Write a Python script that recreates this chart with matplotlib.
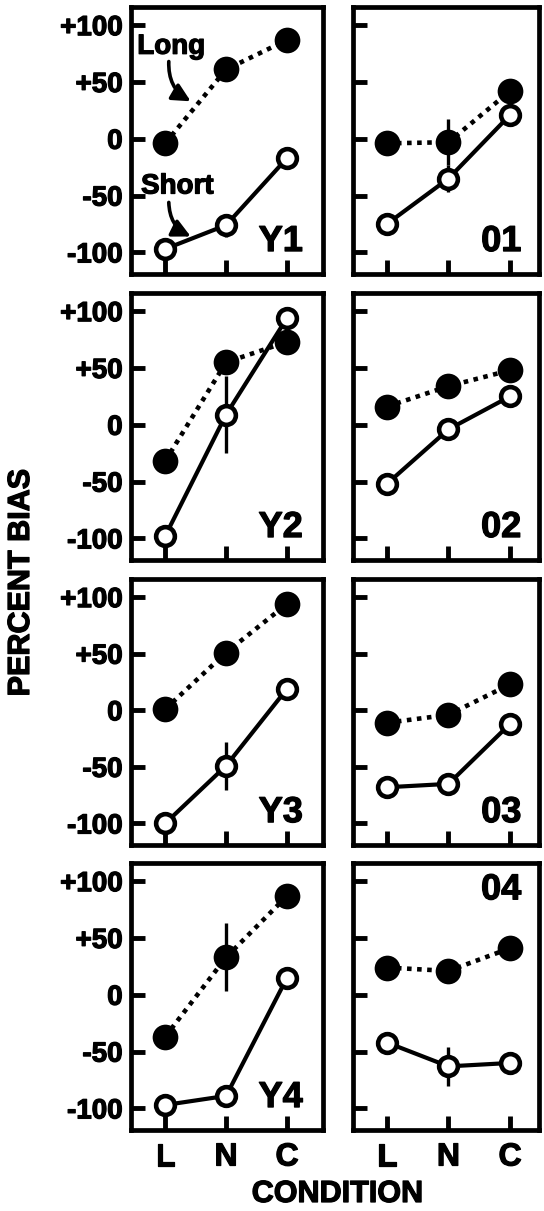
import matplotlib
matplotlib.use('Agg')
import matplotlib.pyplot as plt
import matplotlib.patheffects as pe

plt.rcParams['font.family'] = 'Liberation Sans'
plt.rcParams['font.weight'] = 'bold'

conditions = ['L', 'N', 'C']
yticks = [-100, -50, 0, 50, 100]
ytick_labels = ['-100', '-50', '0', '+50', '+100']

# subjects, left column young (Y), right column old (0)
names = ['Y1', '01', 'Y2', '02', 'Y3', '03', 'Y4', '04']

long_bias = {
    'Y1': [-4, 61, 87],
    '01': [-4, -3, 42],
    'Y2': [-32, 55, 73],
    '02': [16, 34, 48],
    'Y3': [1, 51, 94],
    '03': [-11, -4, 23],
    'Y4': [-37, 33, 87],
    '04': [24, 21, 41],
}
short_bias = {
    'Y1': [-97, -76, -17],
    '01': [-75, -35, 21],
    'Y2': [-98, 9, 94],
    '02': [-52, -4, 25],
    'Y3': [-100, -49, 19],
    '03': [-68, -65, -12],
    'Y4': [-97, -89, 15],
    '04': [-42, -63, -60],
}
long_err = {
    'Y1': [0, 10, 0],
    '01': [0, 20, 0],
    'Y2': [0, 10, 0],
    '02': [0, 10, 0],
    'Y3': [0, 9, 0],
    '03': [0, 9, 0],
    'Y4': [0, 30, 0],
    '04': [0, 10, 0],
}
short_err = {
    'Y1': [0, 10, 0],
    '01': [0, 12, 0],
    'Y2': [0, 34, 0],
    '02': [0, 9, 0],
    'Y3': [0, 21, 0],
    '03': [0, 9, 0],
    'Y4': [0, 8, 0],
    '04': [0, 17, 0],
}

# thicker strokes on the text, the original lettering is very heavy
heavy = [pe.withStroke(linewidth=0.9, foreground='black')]

W, H = 544, 1211
fig = plt.figure(figsize=(W / 100, H / 100), dpi=100)

col_px = [(131, 323), (353, 539)]
row_px = [(7, 274), (293, 560), (579, 845), (863, 1130)]
xlims = [(-0.56, 2.59), (-0.55, 2.47)]

x = [0, 1, 2]
for i, name in enumerate(names):
    r, c = i // 2, i % 2
    x0, x1 = col_px[c]
    y0, y1 = row_px[r]
    ax = fig.add_axes([x0 / W, 1 - y1 / H, (x1 - x0) / W, (y1 - y0) / H])

    ax.errorbar(x, long_bias[name], yerr=long_err[name], fmt='none',
                ecolor='black', elinewidth=2.4, capsize=0, zorder=2)
    ax.plot(x, long_bias[name], color='black', lw=3.3, linestyle=(0, (1, 1.2)),
            dash_capstyle='butt', zorder=2)
    ax.plot(x, long_bias[name], 'o', color='black', ms=18.5, mew=0, zorder=3)

    ax.errorbar(x, short_bias[name], yerr=short_err[name], fmt='none',
                ecolor='black', elinewidth=2.4, capsize=0, zorder=4)
    ax.plot(x, short_bias[name], '-', color='black', lw=3, zorder=4)
    ax.plot(x, short_bias[name], 'o', mfc='white', mec='black', ms=13.5,
            mew=3.3, zorder=5)

    ax.set_xlim(xlims[c])
    ax.set_ylim(-119, 116)
    ax.set_xticks(x)
    ax.set_yticks(yticks)
    ax.tick_params(direction='in', length=10, width=3.5, pad=6, labelsize=20)
    ax.tick_params(axis='x', pad=9, labelsize=23)
    if c == 0:
        ax.set_yticklabels(ytick_labels)
    else:
        ax.set_yticklabels([])
    if r == 3:
        ax.set_xticklabels(conditions)
    else:
        ax.set_xticklabels([])
    for lab in ax.get_xticklabels() + ax.get_yticklabels():
        lab.set_path_effects(heavy)
    for sp in ax.spines.values():
        sp.set_linewidth(3.4)

    xt = 0.895 if c == 0 else 0.905
    if name == '04':
        ax.text(xt, 0.965, name, transform=ax.transAxes, ha='right',
                va='top', fontsize=26, fontweight='bold', path_effects=heavy)
    else:
        ax.text(xt, 0.086, name, transform=ax.transAxes, ha='right',
                va='baseline', fontsize=26, fontweight='bold',
                path_effects=heavy)

    if name == 'Y1':
        ax.text(0.1, 81, 'Long', ha='center', va='center', fontsize=20,
                path_effects=heavy)
        ax.text(0.2, -42, 'Short', ha='center', va='center', fontsize=20,
                path_effects=heavy)
        arrow = dict(arrowstyle='-|>,head_length=0.9,head_width=0.45',
                     color='black', lw=2.6, mutation_scale=12,
                     shrinkA=0, shrinkB=0,
                     connectionstyle='arc3,rad=0.3')
        ax.annotate('', xy=(0.42, 33), xytext=(0.06, 68), arrowprops=arrow)
        ax.annotate('', xy=(0.42, -86), xytext=(0.06, -56), arrowprops=arrow)

fig.text(21 / W, 1 - 583 / H, 'PERCENT BIAS', rotation=90, ha='center',
         va='center', fontsize=22, fontweight='bold', path_effects=heavy)
fig.text(337 / W, 1 - 1194 / H, 'CONDITION', ha='center', va='center',
         fontsize=22, fontweight='bold', path_effects=heavy)

plt.savefig('out.png', dpi=100)
